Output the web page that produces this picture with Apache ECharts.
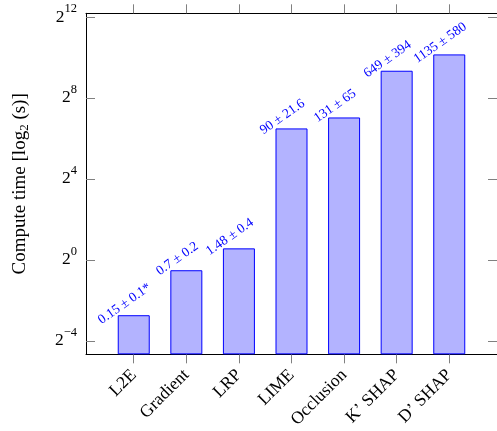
<!DOCTYPE html>
<html><head><meta charset="utf-8">
<script src="https://cdn.jsdelivr.net/npm/echarts@6/dist/echarts.min.js"></script>
<style>html,body{margin:0;padding:0;background:#fff}#c{width:497px;height:431px}</style>
</head><body><div id="c"></div>
<script>
const categories = ['L2E', 'Gradient', 'LRP', 'LIME', 'Occlusion', 'K\u2019 SHAP', 'D\u2019 SHAP'];
const meanTimes = [0.15, 0.7, 1.48, 90, 131, 649, 1135];
const stdTimes = [0.1, 0.2, 0.4, 21.6, 65, 394, 580];
const notes = ['*', '', '', '', '', '', ''];
const yTickExponents = [-4, 0, 4, 8, 12];
const yMinExp = -4.67;
const yMaxExp = 12.18;

const FONT = 'Liberation Serif';
const yTicks = yTickExponents.map(e => Math.pow(2, e));
const xTicks = categories.map((c, i) => i);
const xMin = -0.908, xMax = categories.length - 1 + 0.908;

const chart = echarts.init(document.getElementById('c'), null, {renderer: 'canvas'});
const supRich = {
  b: {fontSize: 17.5, lineHeight: 17, fontFamily: FONT, color: '#000'},
  s: {fontSize: 12.5, lineHeight: 12, padding: [0, 0, 16, 0], fontFamily: FONT, color: '#000'}
};
const yFmt = v => '{b|2}{s|' + Math.round(Math.log2(v)).toString().replace('-', '\u2212') + '}';
const tickStyle = {color: '#808080', width: 1};

const option = {
  animation: false,
  textStyle: {fontFamily: FONT},
  grid: {left: 86, top: 13.3, width: 415.6, height: 343.7, containLabel: false},
  xAxis: [{
    type: 'value', min: xMin, max: xMax, position: 'bottom',
    axisLine: {show: true, onZero: false, lineStyle: {color: '#000', width: 1}},
    axisTick: {show: true, inside: false, length: 9, customValues: xTicks, lineStyle: tickStyle},
    axisLabel: {show: true, customValues: xTicks, rotate: 45, margin: 18, fontSize: 17.5, color: '#000', fontFamily: FONT,
      formatter: v => categories[Math.round(v)]},
    splitLine: {show: false}
  }, {
    type: 'value', min: xMin, max: xMax, position: 'top',
    axisLine: {show: true, onZero: false, lineStyle: {color: '#000', width: 1}},
    axisTick: {show: true, inside: false, length: 9, customValues: xTicks, lineStyle: tickStyle},
    axisLabel: {show: false},
    splitLine: {show: false}
  }],
  yAxis: [{
    type: 'log', logBase: 2, min: Math.pow(2, yMinExp), max: Math.pow(2, yMaxExp),
    startValue: Math.pow(2, yMinExp),
    position: 'left',
    name: 'Compute time [log{sub|2} (s)]', nameLocation: 'middle', nameGap: 55, nameRotate: 90,
    nameTextStyle: {fontSize: 19, fontFamily: FONT, color: '#000',
      rich: {sub: {fontSize: 13, fontFamily: FONT, color: '#000', padding: [8, 0, 0, 0]}}},
    axisLine: {show: true, onZero: false, lineStyle: {color: '#000', width: 1}},
    axisTick: {show: true, inside: true, length: 9, customValues: yTicks, lineStyle: tickStyle},
    axisLabel: {show: true, customValues: yTicks, margin: 9, formatter: yFmt, rich: supRich},
    splitLine: {show: false}, minorTick: {show: false}
  }, {
    type: 'log', logBase: 2, min: Math.pow(2, yMinExp), max: Math.pow(2, yMaxExp),
    position: 'right',
    axisLine: {show: true, onZero: false, lineStyle: {color: '#000', width: 1}},
    axisTick: {show: true, inside: true, length: 9, customValues: yTicks, lineStyle: tickStyle},
    axisLabel: {show: false},
    splitLine: {show: false}
  }],
  series: [{
    type: 'bar', xAxisIndex: 0, yAxisIndex: 0,
    data: categories.map((c, i) => [i, meanTimes[i]]),
    barWidth: 32,
    itemStyle: {color: '#b3b3ff', borderColor: '#0000ff', borderWidth: 1},
    label: {
      show: true, position: 'top', distance: 0, rotate: 35,
      align: 'center', verticalAlign: 'middle', offset: [-0.8, -14.6],
      fontSize: 13.5, fontFamily: FONT, color: '#0000ff',
      formatter: p => meanTimes[p.dataIndex] + ' \u00b1 ' + stdTimes[p.dataIndex] + notes[p.dataIndex]
    }
  }]
};
chart.setOption(option);
</script></body></html>
